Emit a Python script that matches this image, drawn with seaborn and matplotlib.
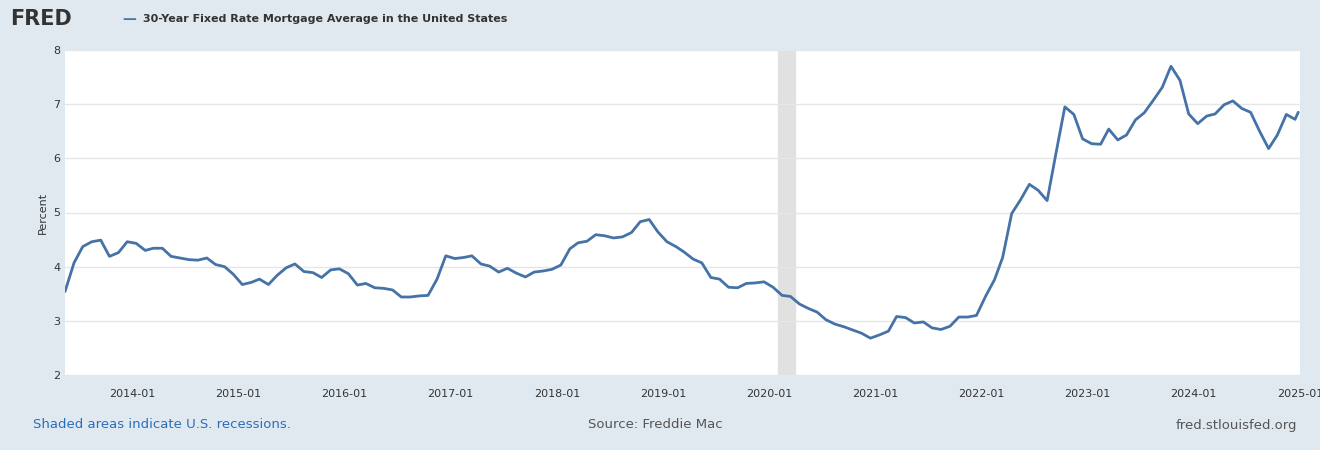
import matplotlib
matplotlib.use("Agg")
import matplotlib.pyplot as plt
import matplotlib.dates as mdates
import seaborn as sns
import pandas as pd

start_month = "2013-05-01"
rates = [
 3.54, 4.07, 4.37, 4.46, 4.49, 4.19, 4.26, 4.46,
 4.43, 4.30, 4.34, 4.34, 4.19, 4.16, 4.13, 4.12, 4.16, 4.04, 4.00, 3.86,
 3.67, 3.71, 3.77, 3.67, 3.84, 3.98, 4.05, 3.91, 3.89, 3.80, 3.94, 3.96,
 3.87, 3.66, 3.69, 3.61, 3.60, 3.57, 3.44, 3.44, 3.46, 3.47, 3.77, 4.20,
 4.15, 4.17, 4.20, 4.05, 4.01, 3.90, 3.97, 3.88, 3.81, 3.90, 3.92, 3.95,
 4.03, 4.33, 4.44, 4.47, 4.59, 4.57, 4.53, 4.55, 4.63, 4.83, 4.87, 4.64,
 4.46, 4.37, 4.27, 4.14, 4.07, 3.80, 3.77, 3.62, 3.61, 3.69, 3.70, 3.72,
 3.62, 3.47, 3.45, 3.31, 3.23, 3.16, 3.02, 2.94, 2.89, 2.83, 2.77, 2.68,
 2.74, 2.81, 3.08, 3.06, 2.96, 2.98, 2.87, 2.84, 2.90, 3.07, 3.07, 3.10,
 3.45, 3.76, 4.17, 4.98, 5.23, 5.52, 5.41, 5.22, 6.11, 6.95, 6.81, 6.36,
 6.27, 6.26, 6.54, 6.34, 6.43, 6.71, 6.84, 7.07, 7.31, 7.70, 7.44, 6.82,
 6.64, 6.78, 6.82, 6.99, 7.06, 6.92, 6.85, 6.50, 6.18, 6.43, 6.81, 6.72,
]
end_date = "2024-12-26"
end_rate = 6.85
recession = ("2020-02-01", "2020-04-01")
tick_years = list(range(2014, 2026))

dates = list(pd.date_range(start_month, periods=len(rates), freq="MS") + pd.Timedelta(days=14))
df = pd.DataFrame({"date": dates + [pd.Timestamp(end_date)], "rate": rates + [end_rate]})

sns.set_theme(style="white")
plt.rcParams['font.family'] = ['DejaVu Sans']
fig = plt.figure(figsize=(13.2, 4.5), dpi=100, facecolor="#e1e9f0")
ax = fig.add_axes([65/1320, 75/450, 1235/1320, 325/450])
ax.set_facecolor("white")
ax.axvspan(pd.Timestamp(recession[0]), pd.Timestamp(recession[1]), color="#e1e1e1", zorder=0)
sns.lineplot(data=df, x="date", y="rate", ax=ax, color="#4572a7", linewidth=2)
ax.set_xlim(pd.Timestamp("2013-05-15"), pd.Timestamp("2025-01-01"))
ax.set_ylim(2, 8)
ax.set_yticks(range(2, 9))
ax.grid(axis="y", color="#e6e6e6", linewidth=1)
ax.set_xticks([pd.Timestamp(f"{y}-01-01") for y in tick_years])
ax.xaxis.set_major_formatter(mdates.DateFormatter("%Y-%m"))
ax.tick_params(axis="both", labelsize=8, colors="#333333", length=0)
ax.tick_params(axis="x", length=4, color="#cccccc", pad=6)
for s in ax.spines.values():
    s.set_visible(False)
ax.set_xlabel("")
ax.set_ylabel("Percent", fontsize=8, color="#333333")
fig.text(10/1320, 1-19/450, "FRED", fontsize=15, fontweight="bold", color="#333333", va="center")
fig.text(122/1320, 1-19/450, "—", fontsize=10, color="#4572a7", va="center", fontweight="bold")
fig.text(143/1320, 1-19/450, "30-Year Fixed Rate Mortgage Average in the United States",
         fontsize=8, fontweight="bold", color="#333333", va="center")
fig.text(33/1320, 1-425/450, "Shaded areas indicate U.S. recessions.", fontsize=9.5, color="#2a6ebb", va="center")
fig.text(655/1320, 1-425/450, "Source: Freddie Mac", fontsize=9.5, color="#555555", va="center", ha="center")
fig.text(1297/1320, 1-425/450, "fred.stlouisfed.org", fontsize=9.5, color="#555555", va="center", ha="right")
fig.savefig("out.png", dpi=100, facecolor=fig.get_facecolor())
